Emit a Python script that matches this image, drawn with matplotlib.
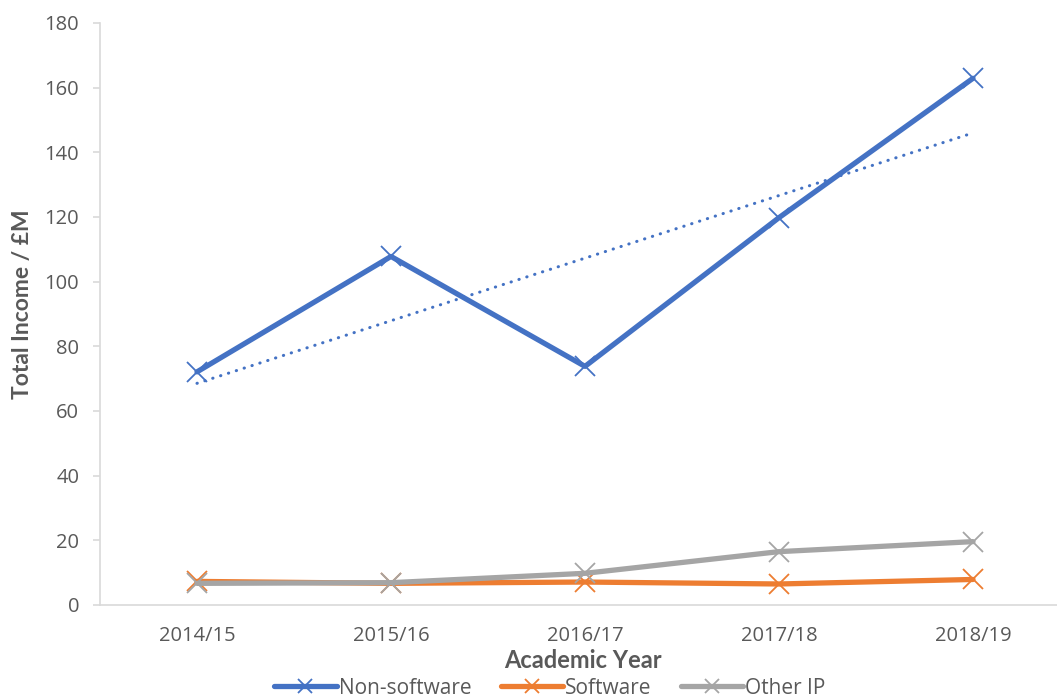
import numpy as np
from matplotlib import pyplot as plt

years = ["2014/15", "2015/16", "2016/17", "2017/18", "2018/19"]
non_software = [72.1, 107.8, 73.8, 119.8, 162.9]
software = [7.3, 6.7, 7.1, 6.5, 7.9]
other_ip = [6.7, 6.9, 9.8, 16.5, 19.6]

blue = "#4472C4"
orange = "#ED7D31"
grey = "#A5A5A5"
txt = "#595959"


def main():
    fig = plt.figure(figsize=(10.57, 6.97), dpi=100)
    # axis spans past the right edge of the picture, as in the cropped original
    ax = fig.add_axes([100 / 1057, 92 / 697, 970 / 1057, 582 / 697])

    x = np.arange(len(years))
    ax.plot(x, non_software, color=blue, lw=3.8, marker="x", ms=14, mew=1.3,
            label="Non-software", solid_capstyle="round")
    ax.plot(x, software, color=orange, lw=3.8, marker="x", ms=14, mew=1.3,
            label="Software", solid_capstyle="round")
    ax.plot(x, other_ip, color=grey, lw=3.8, marker="x", ms=14, mew=1.3,
            label="Other IP", solid_capstyle="round")

    # linear trend line on non-software
    k, b = np.polyfit(x, non_software, 1)
    ax.plot(x, k * x + b, color=blue, lw=2.2, linestyle=(0, (0.1, 2.6)),
            dash_capstyle="round")

    ax.set_xlim(-0.5, 4.5)
    ax.set_ylim(0, 180)
    ax.set_yticks(range(0, 181, 20))
    ax.set_xticks(x)
    ax.set_xticklabels(years)

    for s in ["top", "right"]:
        ax.spines[s].set_visible(False)
    ax.spines["left"].set_color("#D9D9D9")
    ax.spines["bottom"].set_color("#D9D9D9")
    ax.spines["left"].set_linewidth(1.2)
    ax.spines["bottom"].set_linewidth(1.2)
    ax.tick_params(axis="y", colors="#D9D9D9", labelcolor=txt, length=5,
                   width=1.2, labelsize=14.5, pad=10)
    ax.tick_params(axis="x", length=0, labelcolor=txt, labelsize=14.5, pad=15)
    for lab in ax.get_xticklabels() + ax.get_yticklabels():
        lab.set_family("Open Sans")

    fig.text(22 / 1057, 1 - 304 / 697, "Total Income / £M", rotation=90,
             ha="center", va="center", fontsize=16.5, fontweight="bold",
             color=txt, family="Lato")
    fig.text(583 / 1057, 1 - 660 / 697, "Academic Year", ha="center",
             va="center", fontsize=17, fontweight="bold", color=txt,
             family="Lato")

    leg = fig.legend(loc="center", bbox_to_anchor=(550 / 1057, 1 - 688 / 697),
                     ncol=3, frameon=False, fontsize=15, handlelength=3,
                     handletextpad=0.1, columnspacing=1.4, labelcolor=txt,
                     markerscale=0.75)
    for t in leg.get_texts():
        t.set_family("Open Sans")

    fig.savefig("out.png", dpi=100)


if __name__ == "__main__":
    main()
